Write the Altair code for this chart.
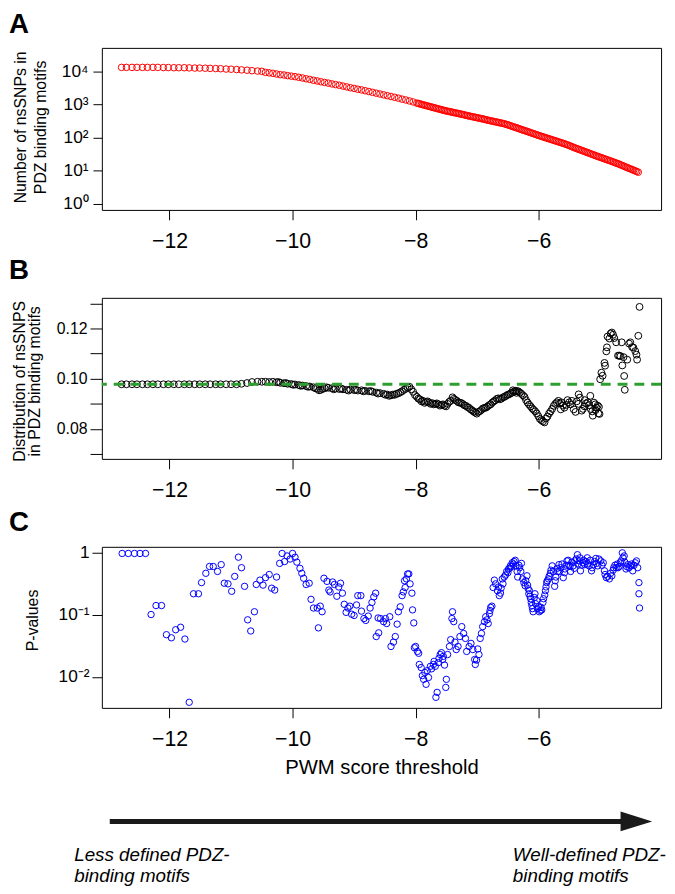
import altair as alt
import pandas as pd

FONT = "Liberation Sans, Arial, Helvetica, sans-serif"

# ---------------- Panel A: number of nsSNPs (log10 of count) ----------------
AX = [-12.78, -12.70, -12.61, -12.53, -12.44, -12.36, -12.27, -12.19, -12.10, -12.02,
      -11.93, -11.85, -11.76, -11.68, -11.59, -11.51, -11.42, -11.34, -11.25, -11.17,
      -11.08, -11.00, -10.91, -10.83, -10.74, -10.66, -10.57, -10.50,
      -10.44, -10.38, -10.32, -10.26, -10.20, -10.14, -10.08, -10.02, -9.96, -9.90,
      -9.84, -9.78, -9.72, -9.66, -9.60, -9.54, -9.48, -9.42, -9.36, -9.30,
      -9.24, -9.18, -9.12, -9.06, -9.00, -8.94, -8.88, -8.82, -8.76, -8.70,
      -8.64, -8.58, -8.52, -8.46, -8.40, -8.34, -8.28, -8.22, -8.16, -8.10, -8.04,
      -7.98, -7.93, -7.88, -7.83, -7.78, -7.73, -7.68, -7.63, -7.58, -7.53,
      -7.48, -7.43, -7.38, -7.33, -7.28, -7.23, -7.18, -7.13, -7.08, -7.03,
      -6.98, -6.93, -6.88, -6.83, -6.78, -6.73, -6.68, -6.63, -6.58, -6.53,
      -6.48, -6.43, -6.38, -6.33, -6.28, -6.23, -6.18, -6.13, -6.08, -6.03,
      -5.98, -5.93, -5.88, -5.83, -5.78, -5.73, -5.68, -5.63, -5.58, -5.53,
      -5.48, -5.43, -5.38, -5.33, -5.28, -5.23, -5.18, -5.13, -5.08, -5.03,
      -4.98, -4.93, -4.88, -4.83, -4.78, -4.73, -4.68, -4.63, -4.58, -4.53,
      -4.48, -4.43, -4.38]
ALOG = [4.12, 4.12, 4.12, 4.12, 4.12, 4.12, 4.12, 4.12, 4.115, 4.115,
        4.11, 4.11, 4.11, 4.105, 4.10, 4.10, 4.095, 4.09, 4.085, 4.08,
        4.07, 4.065, 4.055, 4.045, 4.035, 4.02, 4.01, 4.00,
        3.97, 3.955, 3.94, 3.92, 3.90, 3.89, 3.87, 3.855, 3.84, 3.82,
        3.80, 3.775, 3.755, 3.73, 3.71, 3.685, 3.665, 3.645, 3.62, 3.60,
        3.58, 3.555, 3.53, 3.505, 3.485, 3.46, 3.44, 3.415, 3.39, 3.365,
        3.34, 3.315, 3.29, 3.265, 3.24, 3.215, 3.19, 3.16, 3.135, 3.105, 3.075,
        3.04, 3.015, 2.99, 2.965, 2.94, 2.915, 2.89, 2.865, 2.84, 2.815,
        2.795, 2.775, 2.755, 2.735, 2.715, 2.695, 2.67, 2.65, 2.63, 2.61,
        2.59, 2.57, 2.55, 2.525, 2.505, 2.485, 2.465, 2.445, 2.425, 2.40,
        2.37, 2.335, 2.305, 2.275, 2.24, 2.21, 2.18, 2.145, 2.115, 2.08,
        2.05, 2.02, 1.99, 1.96, 1.93, 1.90, 1.87, 1.84, 1.81, 1.775,
        1.74, 1.70, 1.665, 1.63, 1.595, 1.56, 1.525, 1.49, 1.455, 1.42,
        1.39, 1.355, 1.32, 1.29, 1.255, 1.22, 1.185, 1.145, 1.105, 1.065,
        1.03, 0.99, 0.95]
# the dense right-hand part of panel A (threshold, log10 count)
A_EXTRA = [(-7.955, 3.028), (-7.905, 3.003), (-7.855, 2.978), (-7.805, 2.953), (-7.755, 2.928),
           (-7.705, 2.903), (-7.655, 2.878), (-7.605, 2.853), (-7.555, 2.828), (-7.505, 2.805),
           (-7.455, 2.785), (-7.405, 2.765), (-7.355, 2.745), (-7.305, 2.725), (-7.255, 2.705),
           (-7.205, 2.683), (-7.155, 2.66), (-7.105, 2.64), (-7.055, 2.62), (-7.005, 2.60),
           (-6.955, 2.58), (-6.905, 2.56), (-6.855, 2.538), (-6.805, 2.515), (-6.755, 2.495),
           (-6.705, 2.475), (-6.655, 2.455), (-6.605, 2.435), (-6.555, 2.413), (-6.505, 2.385),
           (-6.455, 2.353), (-6.405, 2.32), (-6.355, 2.29), (-6.305, 2.258), (-6.255, 2.225),
           (-6.205, 2.195), (-6.155, 2.163), (-6.105, 2.13), (-6.055, 2.098), (-6.005, 2.065),
           (-5.955, 2.035), (-5.905, 2.005), (-5.855, 1.975), (-5.805, 1.945), (-5.755, 1.915),
           (-5.705, 1.885), (-5.655, 1.855), (-5.605, 1.825), (-5.555, 1.793), (-5.505, 1.758),
           (-5.455, 1.72), (-5.405, 1.683), (-5.355, 1.648), (-5.305, 1.613), (-5.255, 1.578),
           (-5.205, 1.543), (-5.155, 1.508), (-5.105, 1.473), (-5.055, 1.438), (-5.005, 1.405),
           (-4.955, 1.373), (-4.905, 1.338), (-4.855, 1.305), (-4.805, 1.273), (-4.755, 1.238),
           (-4.705, 1.203), (-4.655, 1.165), (-4.605, 1.125), (-4.555, 1.085), (-4.505, 1.048),
           (-4.455, 1.01), (-4.405, 0.97)]

# ---------------- Panel B: distribution of nsSNPs ----------------
BX = [-12.78, -12.70, -12.61, -12.53, -12.44, -12.36, -12.27, -12.19, -12.10, -12.02,
      -11.93, -11.85, -11.76, -11.68, -11.59, -11.51, -11.42, -11.34, -11.25, -11.17,
      -11.08, -11.00, -10.91, -10.83, -10.74, -10.66, -10.57, -10.50,
      -10.44, -10.38, -10.32, -10.26, -10.20, -10.14, -10.08, -10.02, -9.96, -9.90,
      -9.84, -9.78, -9.72, -9.66, -9.60, -9.54, -9.48, -9.42, -9.36, -9.30,
      -9.24, -9.18, -9.12, -9.06, -9.00, -8.94, -8.88, -8.82, -8.76, -8.70,
      -8.64, -8.58, -8.52, -8.46, -8.40, -8.34, -8.28, -8.22, -8.16, -8.10, -8.04,
      -7.98, -7.93, -7.88, -7.83, -7.78, -7.73, -7.68, -7.63, -7.58, -7.53,
      -7.48, -7.43, -7.38, -7.33, -7.28, -7.23, -7.18, -7.13, -7.08, -7.03,
      -6.98, -6.93, -6.88, -6.83, -6.78, -6.73, -6.68, -6.63, -6.58, -6.53,
      -6.48, -6.43, -6.38, -6.33, -6.28, -6.23, -6.18, -6.13, -6.08, -6.03,
      -5.98, -5.93, -5.88, -5.83, -5.78, -5.73, -5.68, -5.63, -5.58, -5.53,
      -5.48, -5.43, -5.38, -5.33, -5.28, -5.23, -5.18, -5.13, -5.08, -5.03]
BV = [0.0978] * 23 + [0.0980, 0.0983, 0.0987, 0.0988, 0.0988,
      0.0988, 0.0987, 0.0988, 0.0986, 0.0984, 0.0982, 0.0980, 0.0979, 0.0977, 0.0975,
      0.0973, 0.0971, 0.0969, 0.0966, 0.0960, 0.0956, 0.0962, 0.0964, 0.0962, 0.0961,
      0.0959, 0.0958, 0.0956, 0.0957, 0.0955, 0.0953, 0.0954, 0.0952, 0.0950, 0.0948,
      0.0945, 0.0943, 0.0940, 0.0937, 0.0934, 0.0936, 0.0942, 0.0950, 0.0960, 0.0968, 0.0948,
      0.0928, 0.0918, 0.0912, 0.0908, 0.0905, 0.0903, 0.0900, 0.0898, 0.0896, 0.0893,
      0.0900, 0.0912, 0.0920, 0.0912, 0.0905, 0.0899, 0.0892, 0.0884, 0.0874, 0.0865,
      0.0868, 0.0876, 0.0884, 0.0890, 0.0898, 0.0910, 0.0920, 0.0918, 0.0926, 0.0932,
      0.0938, 0.0945, 0.0952, 0.0950, 0.0940, 0.0928, 0.0905, 0.0890, 0.0876, 0.0862,
      0.0840, 0.0830, 0.0842, 0.0862, 0.0880, 0.0900, 0.0912, 0.0906, 0.0885, 0.0915,
      0.0898, 0.0878, 0.0910, 0.0925, 0.0880, 0.0902, 0.0895, 0.0870, 0.0898, 0.0862]
# further points of panel B (threshold, fraction)
B_EXTRA = [(-10.23, 0.0987), (-10.11, 0.0983), (-9.99, 0.0976), (-9.87, 0.0972), (-9.75, 0.0968),
           (-9.63, 0.0962), (-9.57, 0.0954), (-9.51, 0.0960), (-9.45, 0.0966), (-9.33, 0.0958),
           (-9.21, 0.0961), (-9.09, 0.0953), (-8.97, 0.0956), (-8.85, 0.0950), (-8.73, 0.0951),
           (-8.61, 0.0941), (-8.49, 0.0936), (-8.43, 0.0932), (-8.37, 0.0937), (-8.31, 0.0940),
           (-8.25, 0.0946), (-8.19, 0.0956), (-8.13, 0.0966), (-8.07, 0.0958), (-8.01, 0.0935),
           (-7.955, 0.0921), (-7.905, 0.0910), (-7.855, 0.0904), (-7.805, 0.0910), (-7.755, 0.0900),
           (-7.705, 0.0898), (-7.655, 0.0902), (-7.605, 0.0893), (-7.555, 0.0898), (-7.505, 0.0890),
           (-7.455, 0.0908), (-7.40, 0.0926), (-7.355, 0.0916), (-7.305, 0.0906), (-7.255, 0.0903),
           (-7.205, 0.0894), (-7.155, 0.0887), (-7.105, 0.0878), (-7.055, 0.0869), (-7.005, 0.0861),
           (-6.955, 0.0871), (-6.905, 0.0882), (-6.855, 0.0885), (-6.805, 0.0895), (-6.755, 0.0905),
           (-6.705, 0.0914), (-6.655, 0.0922), (-6.605, 0.0921), (-6.555, 0.0928), (-6.505, 0.0936),
           (-6.455, 0.0942), (-6.42, 0.0954), (-6.405, 0.0948), (-6.36, 0.0944), (-6.355, 0.0951),
           (-6.305, 0.0945), (-6.255, 0.0934), (-6.205, 0.0915), (-6.155, 0.0897), (-6.105, 0.0882),
           (-6.055, 0.0870), (-6.005, 0.0851), (-5.955, 0.0835), (-5.905, 0.0826), (-5.855, 0.0850),
           (-5.805, 0.0870), (-5.755, 0.0892), (-5.705, 0.0906), (-5.655, 0.0902), (-5.64, 0.0878),
           (-5.605, 0.0893), (-5.55, 0.0896), (-5.505, 0.0906), (-5.46, 0.0912), (-5.40, 0.0868),
           (-5.355, 0.0900), (-5.35, 0.0938), (-5.30, 0.0873), (-5.255, 0.0890), (-5.25, 0.0915),
           (-5.20, 0.0906), (-5.16, 0.0932), (-5.155, 0.0880), (-5.12, 0.0853), (-5.10, 0.0905),
           (-5.075, 0.0875), (-5.06, 0.0885), (-5.04, 0.0893), (-5.02, 0.0888), (-5.01, 0.0860),
           (-5.00, 0.0998), (-4.98, 0.1024), (-4.96, 0.1012), (-4.93, 0.1063), (-4.92, 0.1052),
           (-4.90, 0.1109), (-4.89, 0.1125), (-4.88, 0.1168), (-4.85, 0.1160), (-4.83, 0.1180),
           (-4.81, 0.1184), (-4.79, 0.1175), (-4.77, 0.1162), (-4.74, 0.1145), (-4.71, 0.1092),
           (-4.69, 0.1092), (-4.67, 0.1090), (-4.65, 0.1145), (-4.64, 0.1053), (-4.62, 0.1086),
           (-4.61, 0.1011), (-4.60, 0.0956), (-4.56, 0.1076), (-4.53, 0.1140), (-4.51, 0.1145),
           (-4.48, 0.1126), (-4.46, 0.1124), (-4.43, 0.1110), (-4.41, 0.1096), (-4.40, 0.1076),
           (-4.38, 0.1171), (-4.36, 0.1286)]
BASELINE = 0.0978

# ---------------- Panel C: P-values (threshold, log10 p) ----------------
C_POINTS = [
    (-12.77, -0.01), (-12.67, -0.01), (-12.57, -0.01), (-12.48, -0.01), (-12.39, -0.01),
    (-12.30, -0.995), (-12.22, -0.85), (-12.13, -0.85), (-12.05, -1.32), (-11.97, -1.37),
    (-11.90, -1.24), (-11.82, -1.20), (-11.75, -1.39), (-11.68, -2.41), (-11.61, -0.66),
    (-11.53, -0.66), (-11.48, -0.48), (-11.41, -0.33), (-11.35, -0.22), (-11.29, -0.22),
    (-11.22, -0.30), (-11.16, -0.19), (-11.11, -0.49), (-11.05, -0.50), (-10.99, -0.62),
    (-10.94, -0.38), (-10.88, -0.07), (-10.83, -0.24), (-10.78, -0.54), (-10.73, -1.08),
    (-10.68, -1.26), (-10.62, -0.95), (-10.59, -0.51), (-10.53, -0.44), (-10.48, -0.52),
    (-10.44, -0.40), (-10.38, -0.35), (-10.34, -0.57), (-10.29, -0.60), (-10.26, -0.39),
    (-10.21, -0.17), (-10.17, -0.01), (-10.13, -0.14), (-10.09, -0.05), (-10.04, -0.10),
    (-10.00, -0.01), (-9.96, -0.07), (-9.93, -0.15), (-9.88, -0.25), (-9.85, -0.33),
    (-9.82, -0.41), (-9.78, -0.51), (-9.73, -0.49), (-9.70, -0.75), (-9.66, -0.89),
    (-9.60, -0.89), (-9.58, -1.21), (-9.55, -0.86), (-9.52, -0.95), (-9.49, -0.41),
    (-9.44, -0.46), (-9.41, -0.60), (-9.39, -0.63), (-9.35, -0.47), (-9.32, -0.51),
    (-9.28, -0.70), (-9.25, -0.55), (-9.22, -0.49), (-9.19, -0.65), (-9.16, -0.83),
    (-9.13, -0.96), (-9.10, -0.89), (-9.07, -0.86), (-9.04, -0.99), (-9.00, -1.01),
    (-8.96, -0.84), (-8.94, -0.69), (-8.89, -0.69), (-8.88, -0.94), (-8.84, -1.06),
    (-8.81, -1.09), (-8.77, -1.02), (-8.74, -0.89), (-8.71, -0.80), (-8.68, -0.71),
    (-8.65, -0.65), (-8.64, -1.35), (-8.61, -1.05), (-8.60, -1.29), (-8.57, -1.06),
    (-8.52, -1.11), (-8.49, -1.06), (-8.47, -1.14), (-8.42, -1.03), (-8.40, -1.51),
    (-8.36, -1.44), (-8.33, -1.35), (-8.30, -1.15), (-8.28, -0.95), (-8.25, -0.87),
    (-8.22, -0.69), (-8.20, -0.63), (-8.18, -0.45), (-8.17, -0.56), (-8.15, -0.42),
    (-8.13, -0.34), (-8.11, -0.34), (-8.09, -0.50), (-8.06, -0.65), (-8.05, -0.92),
    (-8.03, -1.13), (-8.02, -1.53), (-8.00, -1.51), (-7.97, -1.59), (-7.95, -1.62),
    (-7.94, -1.80), (-7.91, -1.85), (-7.89, -1.98), (-7.87, -2.04), (-7.85, -1.93),
    (-7.83, -2.12), (-7.81, -1.90), (-7.79, -2.01), (-7.76, -1.83), (-7.74, -1.87),
    (-7.71, -1.80), (-7.70, -1.75), (-7.68, -1.83), (-7.67, -2.33), (-7.65, -2.25),
    (-7.63, -1.77), (-7.62, -1.70), (-7.60, -1.64), (-7.58, -1.61), (-7.56, -1.72),
    (-7.55, -1.67), (-7.53, -1.81), (-7.51, -2.17), (-7.50, -2.04), (-7.48, -1.64),
    (-7.45, -1.51), (-7.43, -1.40), (-7.41, -1.06), (-7.40, -0.95), (-7.38, -1.11),
    (-7.36, -1.44), (-7.34, -1.56), (-7.31, -1.51), (-7.28, -1.35), (-7.25, -1.19),
    (-7.22, -1.30), (-7.19, -1.38), (-7.17, -1.59), (-7.13, -1.51), (-7.10, -1.46),
    (-7.07, -1.56), (-7.04, -1.72), (-7.03, -1.80), (-7.01, -1.73), (-6.99, -1.55),
    (-6.97, -1.64), (-6.95, -1.38), (-6.93, -1.30), (-6.91, -1.19), (-6.88, -1.11),
    (-6.86, -1.03), (-6.84, -1.08), (-6.82, -1.14), (-6.80, -0.98), (-6.79, -0.93),
    (-6.78, -0.88), (-6.76, -0.86), (-6.74, -0.56), (-6.72, -0.44), (-6.70, -0.50),
    (-6.67, -0.61), (-6.65, -0.55), (-6.64, -0.69), (-6.62, -0.65), (-6.61, -0.57),
    (-6.59, -0.42), (-6.58, -0.50), (-6.56, -0.39), (-6.54, -0.36), (-6.52, -0.30),
    (-6.50, -0.32), (-6.49, -0.26), (-6.47, -0.25), (-6.46, -0.21), (-6.44, -0.22),
    (-6.43, -0.16), (-6.41, -0.18), (-6.40, -0.14), (-6.38, -0.12), (-6.37, -0.21),
    (-6.35, -0.30), (-6.34, -0.39), (-6.32, -0.20), (-6.31, -0.24), (-6.29, -0.30),
    (-6.28, -0.17), (-6.26, -0.42), (-6.24, -0.48), (-6.22, -0.53), (-6.21, -0.45),
    (-6.19, -0.37), (-6.18, -0.52), (-6.17, -0.58), (-6.16, -0.66), (-6.15, -0.61),
    (-6.14, -0.70), (-6.13, -0.74), (-6.12, -0.80), (-6.11, -0.85), (-6.10, -0.90),
    (-6.09, -0.95), (-6.07, -0.72), (-6.06, -0.66), (-6.05, -0.82), (-6.03, -0.77),
    (-6.02, -0.90), (-6.00, -0.87), (-5.99, -0.95), (-5.97, -0.93), (-5.96, -0.88),
    (-5.95, -0.92), (-5.93, -0.80), (-5.92, -0.74), (-5.90, -0.68), (-5.89, -0.61),
    (-5.88, -0.55), (-5.87, -0.48), (-5.86, -0.45), (-5.84, -0.42), (-5.83, -0.38),
    (-5.81, -0.33), (-5.80, -0.28), (-5.78, -0.21), (-5.76, -0.30), (-5.74, -0.54),
    (-5.73, -0.45), (-5.72, -0.39), (-5.70, -0.25), (-5.69, -0.30), (-5.67, -0.19),
    (-5.66, -0.30), (-5.64, -0.24), (-5.62, -0.18), (-5.60, -0.40), (-5.58, -0.32),
    (-5.57, -0.26), (-5.55, -0.20), (-5.54, -0.13), (-5.52, -0.12), (-5.51, -0.20),
    (-5.49, -0.22), (-5.48, -0.30), (-5.46, -0.15), (-5.44, -0.21), (-5.42, -0.25),
    (-5.41, -0.13), (-5.39, -0.10), (-5.37, -0.03), (-5.36, -0.18), (-5.34, -0.13),
    (-5.33, -0.08), (-5.32, -0.29), (-5.30, -0.20), (-5.28, -0.16), (-5.27, -0.12),
    (-5.25, -0.19), (-5.23, -0.14), (-5.21, -0.08), (-5.20, -0.18), (-5.18, -0.21),
    (-5.16, -0.12), (-5.14, -0.29), (-5.13, -0.24), (-5.11, -0.19), (-5.09, -0.14),
    (-5.07, -0.09), (-5.06, -0.17), (-5.04, -0.21), (-5.02, -0.10), (-4.99, -0.13),
    (-4.97, -0.20), (-4.95, -0.16), (-4.93, -0.29), (-4.92, -0.35), (-4.90, -0.40),
    (-4.88, -0.38), (-4.85, -0.42), (-4.83, -0.33), (-4.81, -0.37), (-4.79, -0.28),
    (-4.78, -0.24), (-4.76, -0.20), (-4.74, -0.24), (-4.72, -0.18), (-4.71, -0.24),
    (-4.69, -0.22), (-4.67, -0.16), (-4.66, -0.13), (-4.64, 0.00), (-4.63, -0.08),
    (-4.61, -0.05), (-4.60, -0.15), (-4.58, -0.26), (-4.57, -0.22), (-4.55, -0.19),
    (-4.53, -0.24), (-4.50, -0.21), (-4.49, -0.18), (-4.47, -0.29), (-4.45, -0.20),
    (-4.43, -0.16), (-4.41, -0.13), (-4.39, -0.24), (-4.37, -0.48), (-4.37, -0.66),
    (-4.36, -0.89)]

X_DOMAIN = [-13.10, -4.01]
X_TICKS = [-12, -10, -8, -6]
A_TICKS = [1, 10, 100, 1000, 10000]
A_LABELS = ["10⁰", "10¹", "10²", "10³", "10⁴"]
A_DOMAIN = [0.6457, 51286]
B_TICKS = [0.07, 0.08, 0.09, 0.10, 0.11, 0.12, 0.13]
B_LABELS = ["", "0.08", "", "0.10", "", "0.12", ""]
B_DOMAIN = [0.0681, 0.1322]
C_TICKS = [0.01, 0.1, 1]
C_LABELS = ["10⁻²", "10⁻¹", "1"]
C_DOMAIN = [0.003162, 1.2503]

TITLE_A = ["Number of nsSNPs in", "PDZ binding motifs"]
TITLE_B = ["Distribution of nsSNPS", "in PDZ binding motifs"]
TITLE_C = "P-values"
X_TITLE = "PWM score threshold"
LEFT_TEXT = ["Less defined PDZ-", "binding motifs"]
RIGHT_TEXT = ["Well-defined PDZ-", "binding motifs"]

W = 566


def label_expr(ticks, labels):
    expr = "''"
    for t, l in zip(ticks, labels):
        expr = f"datum.value == {t} ? '{l}' : ({expr})"
    return expr


def x_enc(title=None):
    kw = dict(values=X_TICKS, grid=False, domain=False, tickSize=10, tickColor="black",
              tickWidth=1, labelFontSize=21.5, labelPadding=11, labelColor="black",
              labelFont=FONT, format="d")
    if title:
        kw.update(title=title, titleFontSize=20.5, titleFont=FONT, titleFontWeight="normal",
                  titleColor="black", titlePadding=8)
    else:
        kw.update(title=None)
    return alt.X("x:Q", scale=alt.Scale(domain=X_DOMAIN, nice=False, zero=False),
                 axis=alt.Axis(**kw))


def y_axis(ticks, labels, title, fs, tick, pad, tx, lh, ty):
    return alt.Axis(values=ticks, labelExpr=label_expr(ticks, labels), grid=False,
                    domain=False, tickSize=tick, tickColor="black", labelFontSize=fs,
                    labelPadding=pad, labelColor="black", labelFont=FONT,
                    title=title, titleFont=FONT, titleFontSize=16,
                    titleFontWeight="normal", titleColor="black", titleAngle=270,
                    titleX=tx, titleY=ty, titleAlign="center", titleBaseline="middle",
                    titleLineHeight=lh)


ONE = pd.DataFrame({"k": [0]})


def letter(ch, ypos):
    return alt.Chart(pd.DataFrame({"letter": [ch]})).mark_text(
        align="left", baseline="alphabetic", fontSize=28, fontWeight="bold",
        font=FONT, color="black").encode(text="letter:N", x=alt.value(-94),
                                          y=alt.value(ypos))


# Panel A
dfA = pd.DataFrame({"x": AX + [p[0] for p in A_EXTRA],
                    "lg": ALOG + [p[1] for p in A_EXTRA]})
ptsA = alt.Chart(dfA).transform_calculate(cnt="pow(10, datum.lg)").mark_point(
    shape="circle", filled=False, size=44, strokeWidth=1, color="#ff0000", opacity=1
).encode(
    x=x_enc(),
    y=alt.Y("cnt:Q", scale=alt.Scale(type="log", domain=A_DOMAIN, nice=False),
            axis=y_axis(A_TICKS, A_LABELS, TITLE_A, 17.5, 9, 5, -82, 20, 80)),
)
panelA = alt.layer(ptsA, letter("A", -15)).properties(width=W, height=164)

# Panel B
dfB = pd.DataFrame({"x": BX + [p[0] for p in B_EXTRA],
                    "val": BV + [p[1] for p in B_EXTRA]})
yB = alt.Y("val:Q", scale=alt.Scale(domain=B_DOMAIN, nice=False, zero=False),
           axis=y_axis(B_TICKS, B_LABELS, TITLE_B, 16, 12, 3, -83, 15, 84))
ptsB = alt.Chart(dfB).mark_point(
    shape="circle", filled=False, size=48, strokeWidth=1, color="black", opacity=1
).encode(x=x_enc(), y=yB)
ruleB = alt.Chart(pd.DataFrame({"val": [BASELINE]})).mark_rule(
    color="#2e9e2e", strokeWidth=3, strokeDash=[10, 7]).encode(y=yB)
panelB = alt.layer(ptsB, ruleB, letter("B", -19)).properties(width=W, height=163)

# Panel C
dfC = pd.DataFrame({"x": [p[0] for p in C_POINTS], "lg": [p[1] for p in C_POINTS]})
ptsC = alt.Chart(dfC).transform_calculate(p="pow(10, datum.lg)").mark_point(
    shape="circle", filled=False, size=42, strokeWidth=1, color="#0000ff", opacity=1
).encode(
    x=x_enc(X_TITLE),
    y=alt.Y("p:Q", scale=alt.Scale(type="log", domain=C_DOMAIN, nice=False),
            axis=y_axis(C_TICKS, C_LABELS, TITLE_C, 17.5, 10, 3, -70, 20, 74)),
)
arrow_line = alt.Chart(ONE).mark_rule(color="#1a1a1a", strokeWidth=5).encode(
    x=alt.value(8), x2=alt.value(528), y=alt.value(278))
arrow_head = alt.Chart(ONE).mark_point(
    shape="M -1 -0.625 L 1 0 L -1 0.625 Z", filled=True, size=1024,
    color="#1a1a1a", opacity=1, strokeWidth=0).encode(x=alt.value(541), y=alt.value(278))
txt_style = dict(align="left", baseline="alphabetic", fontSize=19, fontStyle="italic",
                 lineHeight=21, font=FONT, color="black")
left_txt = alt.Chart(ONE).mark_text(**txt_style).encode(
    x=alt.value(-28), y=alt.value(318), text=alt.value(LEFT_TEXT))
right_txt = alt.Chart(ONE).mark_text(**txt_style).encode(
    x=alt.value(416), y=alt.value(318), text=alt.value(RIGHT_TEXT))
panelC = alt.layer(ptsC, letter("C", -16), arrow_line, arrow_head, left_txt,
                   right_txt).properties(width=W, height=163)

chart = alt.vconcat(panelA, panelB, panelC, spacing=89, bounds="flush",
                    padding={"left": 0, "top": -3, "right": 0, "bottom": 0}
                    ).configure(background="white",
                                view=alt.ViewConfig(stroke="black", strokeWidth=1))

chart.save("out.html", embed_options={"renderer": "svg", "actions": False})
